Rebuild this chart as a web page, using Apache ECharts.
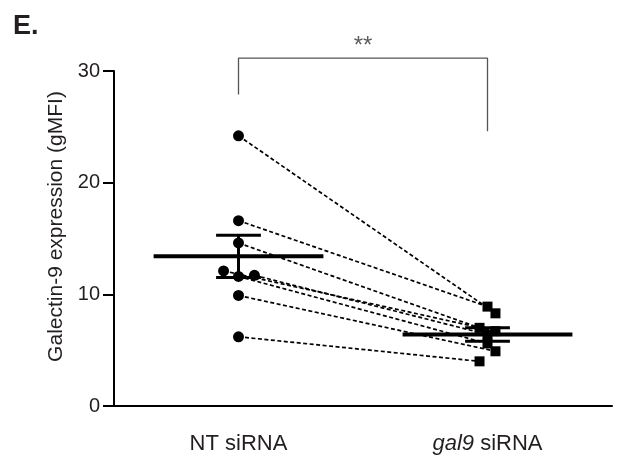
<!DOCTYPE html>
<html>
<head>
<meta charset="utf-8">
<script src="https://cdn.jsdelivr.net/npm/echarts@6/dist/echarts.min.js"></script>
<style>
  html, body { margin: 0; padding: 0; background: #fff; }
  #chart { width: 621px; height: 473px; }
</style>
</head>
<body>
<div id="chart"></div>
<script>
// ---- data ----
var categories = ['NT siRNA', 'gal9 siRNA'];
var yTicks = [0, 10, 20, 30];
var ntValues   = [24.2, 16.6, 14.6, 12.1, 11.7, 11.6, 9.9, 6.2];
var gal9Values = [8.3, 8.9, 7.0, 6.7, 6.4, 5.6, 4.9, 4.0];
// horizontal jitter of each point (category units)
var ntJitter   = [0, 0, 0, -0.06, 0.064, 0, 0, 0];
var gal9Jitter = [0.032, 0, -0.032, 0.032, 0, 0, 0.032, -0.032];
var groupMeans = [13.4, 6.4];
var groupSem   = [1.9, 0.6];
var sigLabel = '**';
var bracketTop = 31.15;
var bracketLegBottoms = [27.9, 24.6];

// ---- build ----
var FONT = 'Arial, "Liberation Sans", sans-serif';
var TXT = '#231f20';
var centers = [0.5, 1.5];

var series = [];
// paired dashed lines
for (var i = 0; i < ntValues.length; i++) {
  series.push({
    type: 'line', xAxisIndex: 1, yAxisIndex: 0, z: 1,
    symbol: 'none', silent: true, animation: false,
    lineStyle: { color: '#000', width: 1.7, type: [4, 2.5], opacity: 1 },
    data: [[centers[0] + ntJitter[i], ntValues[i]], [centers[1] + gal9Jitter[i], gal9Values[i]]]
  });
}
function seg(a, b, w) {
  series.push({
    type: 'line', xAxisIndex: 1, yAxisIndex: 0, z: 3,
    symbol: 'none', silent: true, animation: false,
    lineStyle: { color: '#000', width: w, cap: 'butt', opacity: 1 },
    data: [a, b]
  });
}
for (var g = 0; g < 2; g++) {
  var c = centers[g], m = groupMeans[g], s = groupSem[g];
  seg([c - 0.341, m], [c + 0.341, m], 4);
  seg([c, m - s], [c, m + s], 3);
  seg([c - 0.09, m + s], [c + 0.09, m + s], 3);
  seg([c - 0.09, m - s], [c + 0.09, m - s], 3);
}
// points
series.push({
  type: 'scatter', xAxisIndex: 1, yAxisIndex: 0, z: 4, animation: false,
  symbol: 'circle', symbolSize: 11,
  itemStyle: { color: '#000', opacity: 1 },
  data: ntValues.map(function (v, k) { return [centers[0] + ntJitter[k], v]; })
});
series.push({
  type: 'scatter', xAxisIndex: 1, yAxisIndex: 0, z: 4, animation: false,
  symbol: 'rect', symbolSize: 10,
  itemStyle: { color: '#000', opacity: 1 },
  data: gal9Values.map(function (v, k) { return [centers[1] + gal9Jitter[k], v]; })
});
// significance bracket
series.push({
  type: 'line', xAxisIndex: 1, yAxisIndex: 0, z: 2, clip: false,
  symbol: 'none', silent: true, animation: false,
  lineStyle: { color: '#555', width: 1.3 },
  data: [[centers[0], bracketLegBottoms[0]], [centers[0], bracketTop],
         [centers[1], bracketTop], [centers[1], bracketLegBottoms[1]]]
});
series.push({
  type: 'scatter', xAxisIndex: 1, yAxisIndex: 0, z: 2, clip: false,
  symbolSize: 0, silent: true, animation: false,
  label: { show: true, position: 'top', distance: 0, formatter: sigLabel,
           fontFamily: FONT, fontSize: 24, color: '#333' },
  data: [[(centers[0] + centers[1]) / 2, bracketTop]]
});

var chart = echarts.init(document.getElementById('chart'), null, { renderer: 'canvas' });
chart.setOption({
  backgroundColor: '#fff',
  animation: false,
  title: {
    text: 'E.', left: 8, top: 8,
    textStyle: { fontFamily: FONT, fontSize: 27, fontWeight: 'bold', color: TXT }
  },
  grid: { left: 114, right: 9, top: 71, bottom: 67, containLabel: false },
  xAxis: [
    {
      type: 'category', data: categories, boundaryGap: true,
      axisLine: { lineStyle: { color: '#000', width: 2 } },
      axisTick: { alignWithLabel: true, length: 11, lineStyle: { color: '#000', width: 2 } },
      axisLabel: {
        margin: 27, fontFamily: FONT, fontSize: 22, color: TXT,
        formatter: function (v) {
          var parts = v.split(' ');
          if (parts[0] === 'gal9') return '{i|' + parts[0] + '} ' + parts.slice(1).join(' ');
          return v;
        },
        rich: { i: { fontStyle: 'italic', fontFamily: FONT, fontSize: 22, color: TXT } }
      },
      splitLine: { show: false }
    },
    { type: 'value', min: 0, max: 2, show: false, splitLine: { show: false } }
  ],
  yAxis: {
    type: 'value', min: yTicks[0], max: yTicks[yTicks.length - 1], interval: 10,
    name: 'Galectin-9 expression (gMFI)', nameLocation: 'middle', nameGap: 47,
    nameTextStyle: { fontFamily: FONT, fontSize: 21, color: TXT, padding: [0, 0, 0, 24] },
    axisLine: { show: true, lineStyle: { color: '#000', width: 2 } },
    axisTick: { show: true, length: 11, lineStyle: { color: '#000', width: 2 } },
    axisLabel: { margin: 14, fontFamily: FONT, fontSize: 20, color: TXT },
    splitLine: { show: false }
  },
  series: series
});
</script>
</body>
</html>
